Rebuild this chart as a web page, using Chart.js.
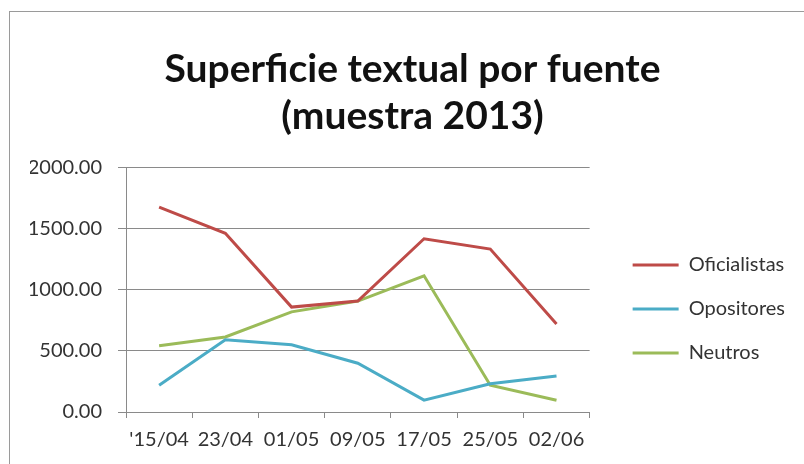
<!DOCTYPE html>
<html>
<head>
<meta charset="utf-8">
<script src="https://cdn.jsdelivr.net/npm/chart.js@4"></script>
<style>
  html, body { margin: 0; padding: 0; background: #fff; }
  #wrap { position: relative; width: 804px; height: 464px; overflow: hidden; }
  #frame {
    position: absolute; left: 9px; top: 11px; width: 900px; height: 600px;
    border-left: 1px solid #9a9a9a; border-top: 1px solid #9a9a9a;
  }
  #myChart { position: absolute; left: 0; top: 0; }
</style>
</head>
<body>
<div id="wrap">
  <div id="frame"></div>
  <canvas id="myChart" width="804" height="464"></canvas>
</div>
<script>
const fechas = ["'15/04", "23/04", "01/05", "09/05", "17/05", "25/05", "02/06"];
const oficialistas = [1680, 1465, 860, 910, 1420, 1335, 722];
const opositores = [220, 592, 551, 400, 97, 232, 295];
const neutros = [543, 615, 821, 909, 1116, 220, 97];
const yTicks = [0, 500, 1000, 1500, 2000];

const fontFamily = "Lato, 'Open Sans', sans-serif";
const axisGray = "#8a8a8a";

let chartInstance = null;

function serie(label, data, color) {
    return {
        label: label,
        data: data,
        borderColor: color,
        backgroundColor: color,
        borderWidth: 3,
        pointRadius: 0,
        tension: 0
    };
}

function drawChart() {
    const ctx = document.getElementById("myChart");

    chartInstance = new Chart(ctx, {
        type: "line",
        data: {
            labels: fechas,
            datasets: [
                serie("Oficialistas", oficialistas, "#BE4B48"),
                serie("Opositores", opositores, "#4BACC6"),
                serie("Neutros", neutros, "#9BBB59")
            ]
        },
        options: {
            responsive: false,
            animation: false,
            layout: {
                padding: { left: 30, right: 9, top: 0, bottom: 2 }
            },
            plugins: {
                title: {
                    display: true,
                    text: ["Superficie textual por fuente", "(muestra 2013)"],
                    color: "#111",
                    font: { family: fontFamily, size: 39, weight: "bold", lineHeight: 1.205 },
                    padding: { top: 46, bottom: 28 }
                },
                legend: {
                    position: "right",
                    align: "center",
                    maxWidth: 220,
                    // empty title only pushes the entries down
                    title: {
                        display: true,
                        text: " ",
                        font: { family: fontFamily, size: 20 },
                        padding: { top: 132, bottom: 0 }
                    },
                    labels: {
                        color: "#333",
                        font: { family: fontFamily, size: 20 },
                        boxWidth: 46,
                        boxHeight: 3,
                        padding: 24,
                        generateLabels(chart) {
                            const items = Chart.defaults.plugins.legend.labels.generateLabels(chart);
                            items.forEach(it => { it.lineWidth = 0; });
                            return items;
                        }
                    }
                },
                tooltip: { enabled: false }
            },
            scales: {
                x: {
                    offset: true,
                    grid: {
                        offset: true,
                        drawOnChartArea: false,
                        drawTicks: true,
                        tickLength: 6,
                        color: axisGray
                    },
                    border: { color: axisGray },
                    ticks: {
                        color: "#333",
                        padding: 10,
                        maxRotation: 0,
                        autoSkip: false,
                        font: { family: fontFamily, size: 20 }
                    }
                },
                y: {
                    min: yTicks[0],
                    max: yTicks[yTicks.length - 1],
                    afterBuildTicks(scale) {
                        scale.ticks = yTicks.map(v => ({ value: v }));
                    },
                    afterFit(scale) { scale.width = 96; },
                    grid: {
                        color: axisGray,
                        drawTicks: true,
                        tickLength: 8
                    },
                    border: { color: axisGray },
                    ticks: {
                        color: "#333",
                        padding: 16,
                        font: { family: fontFamily, size: 20 },
                        callback: v => Number(v).toFixed(2)
                    }
                },
                // blank strip between the plot and the legend
                gap: {
                    type: "linear",
                    position: "right",
                    display: true,
                    grid: { display: false },
                    border: { display: false },
                    ticks: { display: false },
                    afterFit(scale) { scale.width = 19; }
                }
            }
        }
    });
}

// measure text only once Lato is ready, otherwise widths come from a fallback font
Promise.all([
    document.fonts.load("20px Lato"),
    document.fonts.load("bold 39px Lato")
]).then(drawChart, drawChart);
</script>
</body>
</html>
